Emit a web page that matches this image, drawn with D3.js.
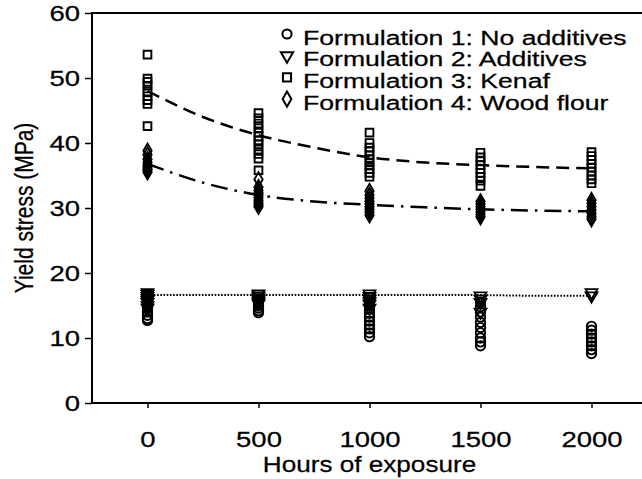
<!DOCTYPE html>
<html>
<head>
<meta charset="utf-8">
<script src="https://cdn.jsdelivr.net/npm/d3@7"></script>
<style>
  body { margin: 0; background: #fff; }
  svg { font-family: "Liberation Sans", Arial, sans-serif; }
  text { fill: #000; stroke: #000; stroke-width: 0.25px; }
</style>
</head>
<body>
<svg id="chart" width="642" height="479"></svg>
<script>
// exposure times (hours)
const hours = [0, 500, 1000, 1500, 2000];

// measured yield stress (MPa), one list per exposure time
const f1Values = [
  [16.0, 15.5, 15.0, 14.5, 14.0, 13.5, 13.0, 12.7],
  [15.8, 15.4, 15.0, 14.6, 14.2, 13.9],
  [16.2, 15.6, 15.0, 14.4, 13.8, 13.2, 12.6, 12.0, 11.4, 10.8, 10.2],
  [15.5, 14.8, 14.0, 13.2, 12.4, 11.6, 10.8, 10.0, 9.4, 8.8],
  [11.8, 11.2, 10.6, 10.0, 9.4, 8.8, 8.2, 7.6]
];
const f2Values = [
  [17.0, 16.7, 16.4, 16.1, 15.8, 15.5, 15.0, 14.6],
  [16.8, 16.5, 16.2, 15.9, 15.6, 15.3],
  [16.8, 16.4, 16.0, 15.6, 15.2, 14.6],
  [16.5, 16.0, 15.5, 14.0],
  [17.0, 16.5]
];
const f3Values = [
  [53.6, 49.9, 49.4, 48.8, 47.9, 47.2, 46.6, 46.0, 42.6],
  [44.6, 43.8, 43.0, 42.3, 41.6, 41.0, 40.4, 39.8, 39.0, 38.3, 37.6, 35.8],
  [41.6, 40.0, 39.3, 38.7, 38.1, 37.5, 37.0, 36.5, 36.0, 35.4, 34.8],
  [38.5, 37.8, 37.2, 36.6, 36.0, 35.4, 34.8, 34.2, 33.4],
  [38.6, 38.0, 37.4, 36.8, 36.2, 35.6, 35.0, 34.4, 33.8]
];
const f4Values = [
  [38.8, 38.2, 37.5, 37.0, 36.6, 36.3, 36.0, 35.8, 35.5],
  [34.4, 33.2, 32.7, 32.3, 32.0, 31.6, 31.2, 30.8, 30.5, 30.2],
  [32.6, 32.0, 31.5, 31.0, 30.6, 30.2, 29.8, 29.4, 28.9],
  [31.0, 30.6, 30.2, 29.8, 29.4, 29.0, 28.6],
  [31.2, 30.7, 30.2, 29.7, 29.2, 28.7, 28.3]
];

// fitted curves
const fitHours = [0, 250, 500, 750, 1000, 1250, 1500, 1750, 2000];
const f2Fit = [16.6, 16.6, 16.6, 16.6, 16.6, 16.6, 16.6, 16.5, 16.5];
const f3Fit = [48.0, 44.0, 41.2, 39.3, 37.8, 37.0, 36.6, 36.3, 36.1];
const f4Fit = [36.8, 33.9, 32.0, 31.0, 30.5, 30.1, 29.8, 29.6, 29.5];

const legendLabels = [
  'Formulation 1: No additives',
  'Formulation 2: Additives',
  'Formulation 3: Kenaf',
  'Formulation 4: Wood flour'
];
const yTicks = [0, 10, 20, 30, 40, 50, 60];

const svg = d3.select('#chart');
const sx = 1.25; // the scanned figure's text is stretched sideways

const x = d3.scaleLinear().domain([-250, 2250]).range([92, 647]);
const y = d3.scaleLinear().domain([0, 60]).range([403, 13]);

// marker shapes
const sym = {
  circle: d3.symbol().type(d3.symbolCircle).size(70),
  tri: d3.symbol().type(d3.symbolTriangle).size(60),
  square: d3.symbol().type(d3.symbolSquare).size(60),
  diamond: d3.symbol().type(d3.symbolDiamond).size(60)
};
const series = [
  { vals: f1Values, shape: 'circle', rot: 0 },
  { vals: f2Values, shape: 'tri', rot: 180 },
  { vals: f3Values, shape: 'square', rot: 0 },
  { vals: f4Values, shape: 'diamond', rot: 0 }
];

// axes
const xAxis = d3.axisBottom(x).tickValues(hours).tickSize(5).tickFormat(d3.format('d'));
const yAxis = d3.axisLeft(y).tickValues(yTicks).tickSize(7);

const gx = svg.append('g').attr('transform', 'translate(0,403)').call(xAxis);
const gy = svg.append('g').attr('transform', 'translate(92,0)').call(yAxis);
gx.select('.domain').remove();
gy.select('.domain').remove();
[gx, gy].forEach(g => {
  g.selectAll('line').attr('stroke', '#000').attr('stroke-width', 1.5);
  g.selectAll('text').attr('fill', '#000').style('font-size', '22px')
    .attr('transform', `scale(${sx},1)`);
});
gx.selectAll('text').attr('y', 0).attr('dy', 0).attr('transform', `translate(0,44) scale(${sx},1)`);
gy.selectAll('text').attr('x', -12 / sx).attr('dy', '0.36em');

// frame: left, bottom, top
svg.append('path')
  .attr('d', `M${x(2250)},${y(60)}H${x(-250)}V${y(0)}H${x(2250)}`)
  .attr('fill', 'none').attr('stroke', '#000').attr('stroke-width', 2);

// fitted lines
const line = d3.line().x((d, i) => x(fitHours[i])).y(d => y(d)).curve(d3.curveMonotoneX);
svg.append('path').attr('d', line(f3Fit))
  .attr('fill', 'none').attr('stroke', '#000').attr('stroke-width', 2.5)
  .attr('stroke-dasharray', '13 7');
svg.append('path').attr('d', line(f4Fit))
  .attr('fill', 'none').attr('stroke', '#000').attr('stroke-width', 2.5)
  .attr('stroke-dasharray', '17 7 2.5 7');
svg.append('path').attr('d', line(f2Fit))
  .attr('fill', 'none').attr('stroke', '#000').attr('stroke-width', 2)
  .attr('stroke-dasharray', '1.6 1.6');

// data markers
series.forEach(s => {
  const pts = [];
  s.vals.forEach((list, i) => list.forEach(v => pts.push([hours[i], v])));
  svg.append('g').selectAll('path').data(pts).join('path')
    .attr('d', sym[s.shape]())
    .attr('transform', d => `translate(${x(d[0])},${y(d[1])}) rotate(${s.rot})`)
    .attr('fill', 'none').attr('stroke', '#000').attr('stroke-width', 1.9);
});

// legend
const lg = svg.append('g');
legendLabels.forEach((t, i) => {
  const ly = 37 + i * 21.7;
  const s = series[i];
  lg.append('path').attr('d', sym[s.shape].size(66)())
    .attr('transform', `translate(287,${ly - 3}) rotate(${s.rot})`)
    .attr('fill', 'none').attr('stroke', '#000').attr('stroke-width', 2);
  lg.append('text').attr('transform', `translate(303,${ly}) scale(1.33,1.05)`)
    .attr('dy', '0.36em').style('font-size', '20px').text(t);
});

// axis titles
svg.append('text').attr('transform', `translate(${x(1000)},472) scale(${sx * 0.95},1)`)
  .attr('text-anchor', 'middle').style('font-size', '22px').text('Hours of exposure');
svg.append('text').attr('transform', `translate(33,${y(30)}) rotate(-90) scale(1,1.2)`)
  .attr('text-anchor', 'middle').style('font-size', '21px').text('Yield stress (MPa)');
</script>
</body>
</html>
